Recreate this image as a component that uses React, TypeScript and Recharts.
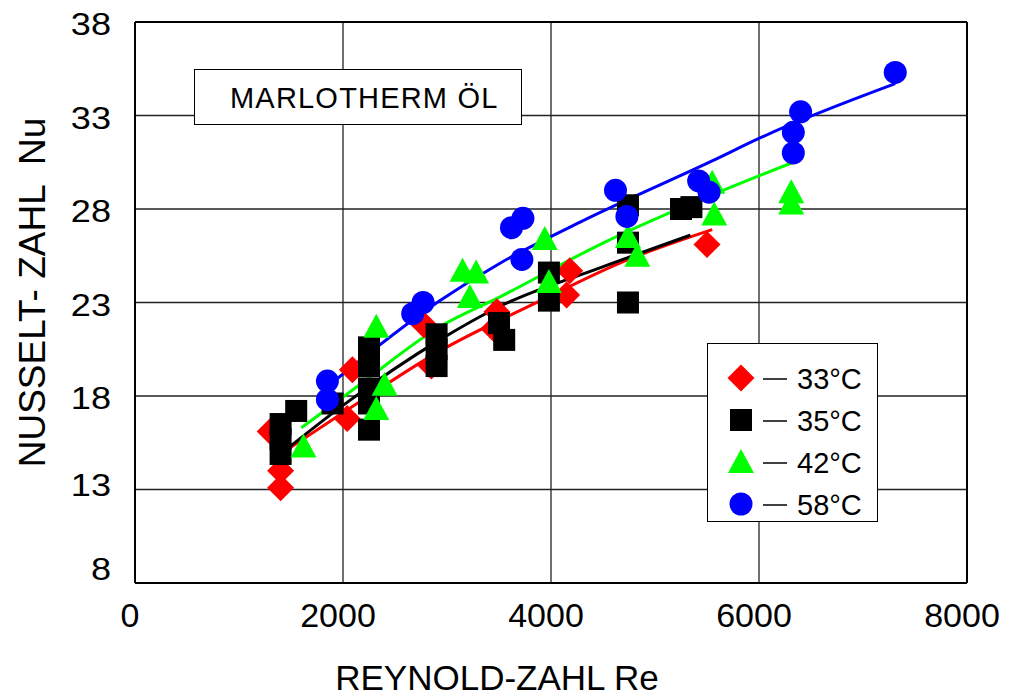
import React from 'react';
import {
  ComposedChart,
  Scatter,
  Line,
  XAxis,
  YAxis,
  CartesianGrid,
  Legend,
  ReferenceLine,
} from 'recharts';

const FONT = '"Liberation Sans", Arial, sans-serif';

const xTicks = [0, 2000, 4000, 6000, 8000];
const yTicks = [8, 13, 18, 23, 28, 33, 38];

const xTitle = 'REYNOLD-ZAHL Re';
const yTitle = 'NUSSELT- ZAHL  Nu';
const boxTitle = 'MARLOTHERM ÖL';

// measured points [Re, Nu]
const points33: [number, number][] = [
  [1300, 16.1], [1400, 14.0], [1400, 13.1], [2040, 16.8], [2090, 19.4],
  [2780, 21.8], [2850, 19.6], [3480, 22.5], [3450, 21.6], [4150, 23.4],
  [4180, 24.7], [5500, 26.1],
];
const points35: [number, number][] = [
  [1400, 16.5], [1400, 15.7], [1400, 14.9], [1550, 17.2], [1900, 17.6],
  [2250, 20.6], [2250, 19.6], [2250, 18.4], [2250, 17.6], [2250, 16.2],
  [2900, 21.3], [2900, 20.5], [2900, 19.6], [3500, 21.9], [3550, 21.0],
  [3980, 24.6], [3980, 23.1], [4740, 28.2], [4740, 26.2], [4740, 23.0],
  [5250, 28.0], [5350, 28.1],
];
const points42: [number, number][] = [
  [1620, 15.3], [2320, 21.7], [2320, 17.3], [2400, 18.6], [3150, 24.7],
  [3280, 24.6], [3220, 23.3], [3940, 26.4], [3980, 24.1], [4740, 26.5],
  [4830, 25.5], [5550, 29.4], [5570, 27.7], [6310, 28.9], [6310, 28.3],
];
const points58: [number, number][] = [
  [1850, 18.8], [1850, 17.8], [2670, 22.4], [2770, 23.0], [3620, 27.0],
  [3730, 27.5], [3720, 25.3], [4620, 29.0], [4730, 27.6], [5420, 29.5],
  [5520, 28.9], [6330, 32.1], [6330, 31.0], [6400, 33.2], [7310, 35.3],
];

// trend lines [Re, Nu]
const fit33: [number, number][] = [
  [1320, 14.6], [2000, 17.1], [2930, 20.4], [3900, 23.1], [4700, 25.2], [5550, 26.9],
];
const fit35: [number, number][] = [
  [1400, 14.9], [2000, 17.5], [2930, 21.0], [3510, 22.8], [4470, 24.85], [5340, 26.6],
];
const fit42: [number, number][] = [
  [1600, 16.3], [2160, 18.6], [2930, 21.7], [3510, 23.3], [4470, 26.1], [6010, 29.8], [6330, 30.5],
];
const fit58: [number, number][] = [
  [1870, 18.6], [2930, 23.1], [3510, 25.1], [4280, 27.3], [5560, 30.6], [6010, 31.8], [7310, 34.7],
];

type Kind = 'diamond' | 'square' | 'triangle' | 'circle';

const series: { name: string; color: string; kind: Kind; pts: [number, number][]; fit: [number, number][] }[] = [
  { name: '33°C', color: '#FF0000', kind: 'diamond', pts: points33, fit: fit33 },
  { name: '35°C', color: '#000000', kind: 'square', pts: points35, fit: fit35 },
  { name: '42°C', color: '#00FF00', kind: 'triangle', pts: points42, fit: fit42 },
  { name: '58°C', color: '#0000FF', kind: 'circle', pts: points58, fit: fit58 },
];

const toRows = (arr: [number, number][]) => arr.map(([re, nu]) => ({ re, nu }));

function marker(kind: Kind, color: string, cx: number, cy: number, key?: string) {
  if (kind === 'diamond') {
    const h = 13.5;
    return <polygon key={key} points={`${cx},${cy - h} ${cx + h},${cy} ${cx},${cy + h} ${cx - h},${cy}`} fill={color} />;
  }
  if (kind === 'square') {
    return <rect key={key} x={cx - 11} y={cy - 11} width={22} height={22} fill={color} />;
  }
  if (kind === 'triangle') {
    return <polygon key={key} points={`${cx},${cy - 13} ${cx + 13},${cy + 11} ${cx - 13},${cy + 11}`} fill={color} />;
  }
  return <circle key={key} cx={cx} cy={cy} r={11.5} fill={color} />;
}

const YTick = (props: any) => {
  const { x, y, payload } = props;
  const dy = payload.value === 8 ? -14 : payload.value === 13 ? -5 : 2;
  return (
    <g transform={`translate(${x - 24}, ${y + dy}) scale(1.13, 1)`}>
      <text x={0} y={0} textAnchor="end" dominantBaseline="central" fontSize={32} fontFamily={FONT} fill="#000">
        {payload.value}
      </text>
    </g>
  );
};

const XTick = (props: any) => {
  const { x, y, payload } = props;
  return (
    <text x={x - 5} y={y + 32} textAnchor="middle" dominantBaseline="central" fontSize={34} fontFamily={FONT} fill="#000">
      {payload.value}
    </text>
  );
};

const XTitle = (props: any) => {
  const vb = props.viewBox || { x: 135, y: 583, width: 832, height: 114 };
  return (
    <text x={vb.x + vb.width / 2 - 54} y={690} textAnchor="middle" fontSize={35} fontFamily={FONT} fill="#000">
      {xTitle}
    </text>
  );
};

const YTitle = (props: any) => {
  const vb = props.viewBox || { x: 0, y: 22, width: 135, height: 561 };
  const cy = vb.y + vb.height / 2 - 10;
  return (
    <text
      x={45}
      y={cy}
      transform={`rotate(-90, 45, ${cy})`}
      textAnchor="middle"
      fontSize={37}
      fontFamily={FONT}
      fill="#000"
      style={{ whiteSpace: 'pre' }}
    >
      {yTitle}
    </text>
  );
};

const LegendBox = () => (
  <div
    style={{
      width: 171,
      height: 179,
      border: '1.5px solid #000',
      background: '#fff',
      boxSizing: 'border-box',
    }}
  >
    <svg width={168} height={176}>
      {series.map((s, i) => {
        const cy = 34 + i * 42;
        return (
          <g key={s.name}>
            {marker(s.kind, s.color, 33, cy)}
            <line x1={55} x2={79} y1={cy + 1} y2={cy + 1} stroke="#000" strokeWidth={1.5} />
            <text x={89} y={cy + 1} dominantBaseline="central" fontSize={29} fontFamily={FONT} fill="#000">
              {s.name}
            </text>
          </g>
        );
      })}
    </svg>
  </div>
);

export default function App() {
  return (
    <div style={{ position: 'absolute', left: 0, top: 0, width: 1011, height: 697, background: '#fff', fontFamily: FONT }}>
      <ComposedChart width={1011} height={697} margin={{ top: 22, right: 44, bottom: 0, left: 0 }}>
        <CartesianGrid stroke="#222" strokeWidth={1.3} horizontal vertical />
        <XAxis
          type="number"
          dataKey="re"
          domain={[0, 8000]}
          ticks={xTicks}
          height={114}
          tickSize={0}
          tickMargin={0}
          tickLine={false}
          axisLine={{ stroke: '#000', strokeWidth: 2 }}
          tick={<XTick />}
          label={<XTitle />}
          allowDataOverflow
        />
        <YAxis
          type="number"
          dataKey="nu"
          domain={[8, 38]}
          ticks={yTicks}
          width={135}
          tickSize={0}
          tickMargin={0}
          tickLine={false}
          axisLine={{ stroke: '#000', strokeWidth: 2 }}
          tick={<YTick />}
          label={<YTitle />}
          allowDataOverflow
        />
        <ReferenceLine x={8000} stroke="#000" strokeWidth={2} />
        <ReferenceLine y={38} stroke="#000" strokeWidth={2} />
        {series.map((s) => (
          <Scatter
            key={'pts' + s.name}
            name={s.name}
            data={toRows(s.pts)}
            fill={s.color}
            isAnimationActive={false}
            shape={(p: any) => marker(s.kind, s.color, p.cx, p.cy)}
          />
        ))}
        {series.map((s) => (
          <Line
            key={'fit' + s.name}
            data={toRows(s.fit)}
            dataKey="nu"
            type="monotone"
            stroke={s.color}
            strokeWidth={3}
            dot={false}
            activeDot={false}
            legendType="none"
            isAnimationActive={false}
          />
        ))}
        <Legend
          layout="vertical"
          align="center"
          verticalAlign="middle"
          content={<LegendBox />}
          wrapperStyle={{ position: 'absolute', left: 707, top: 343, width: 171, height: 179 }}
        />
      </ComposedChart>
      <div
        style={{
          position: 'absolute',
          left: 194,
          top: 69,
          width: 328,
          height: 56,
          border: '1.5px solid #000',
          background: '#fff',
          boxSizing: 'border-box',
          display: 'flex',
          alignItems: 'center',
          justifyContent: 'flex-start',
          fontSize: 29,
          letterSpacing: 1.2,
          fontFamily: FONT,
          color: '#000',
          paddingLeft: 35,
          paddingTop: 2,
        }}
      >
        {boxTitle}
      </div>
    </div>
  );
}
